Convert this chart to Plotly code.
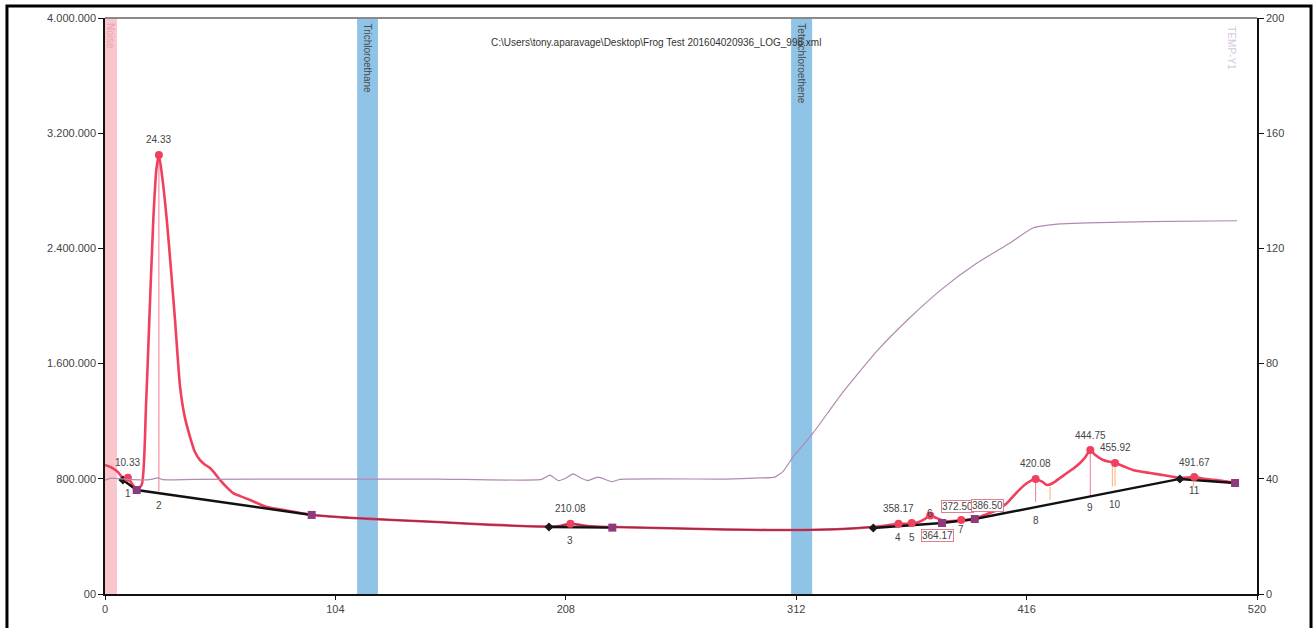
import plotly.graph_objects as go

FONT = "Liberation Sans Narrow, Arial Narrow, Liberation Sans, Arial, sans-serif"

# ---------------- data ----------------
# detector signal (left axis, counts)
sig_x = [0, 3, 6, 8, 10.33, 12, 14.4, 16.6, 18.5, 20.0, 21.8, 23.2, 24.33, 25.8, 27.9, 29.8,
         31.6, 33.9, 36, 38.4, 40.5, 42.9, 45, 47.4, 49.5, 51.9, 55, 57.8, 61, 65.5, 73.1, 80,
         93.5, 110, 130, 150, 175, 200.4, 205, 210.08, 215, 222, 228.9, 250, 270, 290, 309,
         330, 346.7, 352, 358.17, 361, 364.17, 367, 370, 372.5, 375, 378, 381, 384, 386.5,
         389, 392, 395, 398, 402.6, 407.2, 411.7, 416.2, 420.08, 423, 425.2, 427.9, 431,
         434.2, 437, 440.1, 442.5, 444.75, 447, 450.5, 453, 455.92, 460, 464, 471.7, 478,
         485.2, 491.67, 496, 501.9, 506, 510.1]
sig_y = [896000, 878000, 845000, 805000, 808000, 770000, 725000, 760000, 1300000, 1900000,
         2600000, 2950000, 3049000, 2900000, 2597000, 2250000, 1903000, 1437000, 1230000,
         1090000, 990000, 930000, 900000, 875000, 840000, 792000, 740000, 701000, 680000,
         653000, 604000, 585000, 549000, 530000, 514000, 500000, 480000, 468000, 472000,
         488000, 478000, 468000, 465000, 458000, 451000, 446000, 444000, 450000, 465000,
         475000, 488000, 487000, 493000, 498000, 520000, 545000, 530000, 512000, 505000,
         508000, 514000, 512000, 520000, 535000, 555000, 583000, 632000, 708000, 771000,
         799000, 780000, 757000, 771000, 805000, 840000, 870000, 910000, 950000, 1000000,
         965000, 931000, 920000, 910000, 885000, 861000, 840000, 825000, 806000, 812000,
         800000, 792000, 782000, 771000]

# oven temperature (right axis)
temp_x = [0, 3, 10, 20, 24, 26, 40, 100, 150, 197, 200.9, 204.5, 208, 211.3, 215, 218,
          222.5, 228.9, 232.5, 280, 295.7, 302.4, 306, 310.6, 319.6, 333.1, 348.5, 363.4,
          378.3, 393.6, 408.5, 418.9, 431.1, 470, 511]
temp_y = [39.5, 40.2, 39.8, 39.7, 40.3, 39.7, 39.8, 39.9, 39.9, 39.8, 41.3, 39.4, 40.2,
          41.7, 40.2, 39.4, 40.6, 39.0, 39.8, 39.9, 40.3, 40.6, 42.5, 47.6, 55.9, 70.1,
          84.4, 96.0, 106.2, 114.9, 121.9, 127.1, 128.5, 129.3, 129.6]

# integration baselines (None = gap between segments)
base_x = [8.1, 14.3, 93.3, None, 200.4, 229.0, None, 346.8, 377.8, 392.6, 485.2, 510.1]
base_y = [792000, 722000, 549000, None, 465000, 461000, None, 458000, 493000, 521000,
          799000, 771000]
base_start_x = [8.1, 200.4, 346.8, 485.2]
base_start_y = [792000, 465000, 458000, 799000]
base_end_x = [14.3, 93.3, 229.0, 377.8, 392.6, 510.1]
base_end_y = [722000, 549000, 461000, 493000, 521000, 771000]

# detected peaks
peak_no = ["1", "2", "3", "4", "5", "6", "7", "8", "9", "10", "11"]
peak_rt = [10.33, 24.33, 210.08, 358.17, 364.17, 372.50, 386.50, 420.08, 444.75, 455.92, 491.67]
peak_h = [808000, 3049000, 488000, 488000, 493000, 545000, 514000, 799000, 1000000, 910000, 812000]
peak_base = [792000, 715000, 472000, 493000, 493000, 653000, 542000, 611000, 701000, 722000, 819000]
boxed_peaks = ["5", "6", "7"]

# drop lines (apex -> baseline) and valley ticks
drop_x = [24.33, 420.08, 444.75]
drop_top = [3049000, 799000, 1000000]
drop_bot = [715000, 640000, 680000]
valley_x = [426.6, 454.7, 455.9, 491.3]
valley_top = [743000, 900000, 905000, 800000]
valley_bot = [653000, 745000, 750000, 745000]

# compound windows
band_x0 = [0, 113.8, 309.7]
band_x1 = [5.4, 123.2, 319.2]
band_name = ["Noise", "Trichloroethane", "Tetrachloroethene"]
band_color = ["#f9c6cd", "#8fc4e7", "#8fc4e7"]
band_text_color = ["#e8a6b2", "#4a4a4a", "#4a4a4a"]

x_ticks = [0, 104, 208, 312, 416, 520]
y_ticks = [0, 800000, 1600000, 2400000, 3200000, 4000000]
y_ticktext = ["00", "800.000", "1.600.000", "2.400.000", "3.200.000", "4.000.000"]
y2_ticks = [0, 40, 80, 120, 160, 200]

title_text = "C:\\Users\\tony.aparavage\\Desktop\\Frog Test 201604020936_LOG_998.xml"

# ---------------- figure ----------------
fig = go.Figure()

for x0, x1, c in zip(band_x0, band_x1, band_color):
    fig.add_shape(type="rect", xref="x", yref="paper", x0=x0, x1=x1, y0=0, y1=1,
                  fillcolor=c, line_width=0, layer="below")

# temperature
fig.add_trace(go.Scatter(x=temp_x, y=temp_y, yaxis="y2", mode="lines",
                         line=dict(color="#b08ab0", width=1.2, shape="spline", smoothing=0.5),
                         hoverinfo="skip"))

# drop lines
dx, dy = [], []
for x, t, b in zip(drop_x, drop_top, drop_bot):
    dx += [x, x, None]
    dy += [t, b, None]
fig.add_trace(go.Scatter(x=dx, y=dy, mode="lines", line=dict(color="#f47a90", width=1),
                         hoverinfo="skip"))
vx, vy = [], []
for x, t, b in zip(valley_x, valley_top, valley_bot):
    vx += [x, x, None]
    vy += [t, b, None]
fig.add_trace(go.Scatter(x=vx, y=vy, mode="lines", line=dict(color="#f6b27a", width=1),
                         hoverinfo="skip"))

# signal
fig.add_trace(go.Scatter(x=sig_x, y=sig_y, mode="lines",
                         line=dict(color="#f0405e", width=2.6, shape="spline", smoothing=0.6),
                         hoverinfo="skip"))
# darker overlay on flat stretches (baseline coincides with signal)
flat_x = [x for x in sig_x if 93.3 <= x <= 346.8]
flat_y = [y for x, y in zip(sig_x, sig_y) if 93.3 <= x <= 346.8]
fig.add_trace(go.Scatter(x=flat_x, y=flat_y, mode="lines",
                         line=dict(color="#9a2c4c", width=1.4, shape="spline", smoothing=0.6),
                         hoverinfo="skip"))

# baselines
fig.add_trace(go.Scatter(x=base_x, y=base_y, mode="lines", line=dict(color="#111111", width=2.4),
                         connectgaps=False, hoverinfo="skip"))
fig.add_trace(go.Scatter(x=base_start_x, y=base_start_y, mode="markers",
                         marker=dict(symbol="diamond", size=7, color="#1a1a1a"), hoverinfo="skip"))
fig.add_trace(go.Scatter(x=base_end_x, y=base_end_y, mode="markers",
                         marker=dict(symbol="square", size=8, color="#8e3a7c"), hoverinfo="skip"))

# peak apex markers
fig.add_trace(go.Scatter(x=peak_rt, y=peak_h, mode="markers",
                         marker=dict(symbol="circle", size=8, color="#f0405e"), hoverinfo="skip"))

annots = []
lab_font = dict(family=FONT, size=10, color="#444444")
box_shift = {"5": (26, -12), "6": (27, 9), "7": (26, 14)}
for n, rt, h, b in zip(peak_no, peak_rt, peak_h, peak_base):
    if n in boxed_peaks:
        xs, ys = box_shift[n]
        annots.append(dict(x=rt, y=h, xref="x", yref="y", text=f"{rt:.2f}", showarrow=False,
                           xshift=xs, yshift=ys, font=lab_font, bgcolor="white",
                           bordercolor="#e0808f", borderwidth=1, borderpad=0))
    else:
        annots.append(dict(x=rt, y=h, xref="x", yref="y", text=f"{rt:.2f}", showarrow=False,
                           yshift=15, font=lab_font))
    annots.append(dict(x=rt, y=b, xref="x", yref="y", text=n, showarrow=False,
                       yshift=-14, font=lab_font))

for x0, x1, name, tc in zip(band_x0, band_x1, band_name, band_text_color):
    annots.append(dict(x=(x0 + x1) / 2, y=1, xref="x", yref="paper", text=name,
                       showarrow=False, textangle=90, xanchor="center", yanchor="top",
                       yshift=-3, font=dict(family=FONT, size=10, color=tc)))

annots.append(dict(x=0.978, y=1, xref="paper", yref="paper", text="TEMP-Y1", showarrow=False,
                   textangle=90, xanchor="center", yanchor="top", yshift=-6,
                   font=dict(family=FONT, size=10, color="#d8c8e0")))
annots.append(dict(x=0.478, y=0.9705, xref="paper", yref="paper", text=title_text,
                   showarrow=False, font=dict(family=FONT, size=10, color="#333333")))

shapes = [
    dict(type="line", xref="paper", yref="paper", x0=0, x1=1, y0=1, y1=1,
         line=dict(color="#8a8a8a", width=2)),
    dict(type="rect", xref="paper", yref="paper", x0=-0.0851, x1=1.0469, y0=-0.15, y1=1.0208,
         line=dict(color="#000000", width=3)),
]

tickfont = dict(family=FONT, size=11, color="#444444")
fig.update_layout(
    width=1315, height=628,
    margin=dict(l=105, r=58, t=18, b=34, pad=0),
    paper_bgcolor="white", plot_bgcolor="white",
    showlegend=False,
    annotations=annots,
    xaxis=dict(range=[0, 520], tickvals=x_ticks, showgrid=False, zeroline=False,
               showline=True, linecolor="#111111", linewidth=1.5, ticks="outside",
               ticklen=4, tickcolor="#111111", tickfont=tickfont, automargin=False),
    yaxis=dict(range=[0, 4000000], tickvals=y_ticks, ticktext=y_ticktext, showgrid=False,
               zeroline=False, showline=True, linecolor="#111111", linewidth=1.5,
               ticks="outside", ticklen=5, tickcolor="#111111", tickfont=tickfont,
               automargin=False),
    yaxis2=dict(range=[0, 200], tickvals=y2_ticks, overlaying="y", side="right",
                showgrid=False, zeroline=False, showline=True, linecolor="#111111",
                linewidth=1.5, ticks="outside", ticklen=5, tickcolor="#111111",
                tickfont=tickfont, automargin=False),
)
for s in shapes:
    fig.add_shape(**s)

fig.write_html("out.html")
